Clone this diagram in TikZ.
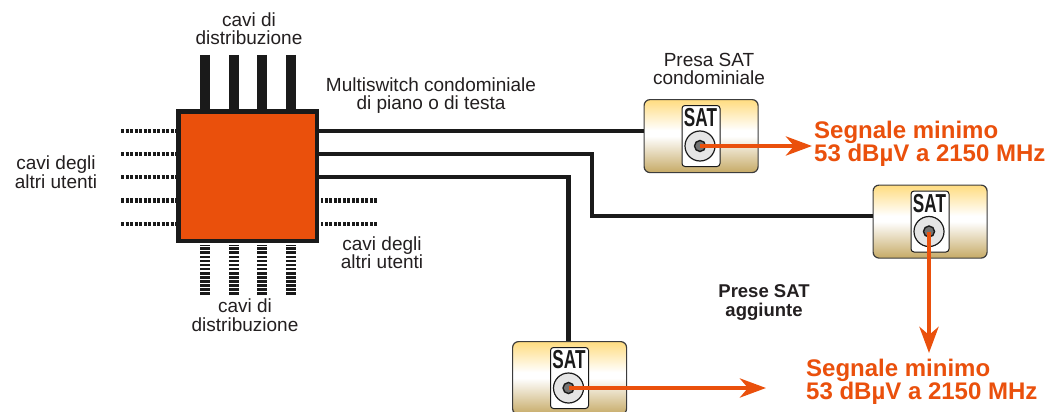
\documentclass[tikz,border=0pt]{standalone}
\usepackage{fontspec}
\setmainfont{Liberation Sans}
\usetikzlibrary{arrows.meta}
\definecolor{ink}{HTML}{1A1A1A}
\definecolor{orng}{HTML}{EA500C}
\definecolor{txtc}{HTML}{231F20}
\definecolor{sattop}{HTML}{FFDC80}
\definecolor{satbot}{HTML}{C6AA66}
\pgfdeclareverticalshading{satshade}{100bp}{
  color(0bp)=(satbot); color(25bp)=(satbot); color(50bp)=(white); color(54bp)=(white); color(75bp)=(sattop); color(100bp)=(sattop)}
\tikzset{
  lbl/.style={font=\fontsize{19}{18.5}\selectfont,text=txtc,align=center,inner sep=0pt},
  boldlbl/.style={font=\bfseries\fontsize{18.5}{19}\selectfont,text=txtc,align=center,inner sep=0pt},
  sig/.style={font=\bfseries\fontsize{24}{22}\selectfont,text=orng,align=left,inner sep=0pt},
  cable/.style={draw=ink,line width=4.5pt},
  dotcable/.style={draw=ink,line width=4.5pt,dash pattern=on 3pt off 1.5pt},
  fatcable/.style={draw=ink,line width=10pt},
  stripecable/.style={draw=ink,line width=10pt,dash pattern=on 2.6pt off 1.5pt},
  satbody/.style={draw=ink!85,line width=1.2pt,rounded corners=6pt,shading=satshade,minimum width=114pt,minimum height=73pt,inner sep=0pt},
  satplate/.style={draw=ink,fill=white,line width=1pt,rounded corners=3pt,minimum width=38pt,minimum height=61pt,inner sep=0pt},
  sattxt/.style={font=\bfseries\fontsize{26}{26}\selectfont,text=ink,inner sep=0pt,xscale=.66},
  ringo/.style={circle,draw=ink,fill=black!10,line width=1.2pt,minimum size=30pt,inner sep=0pt},
  ringi/.style={circle,draw=ink,fill=black!55,line width=1.4pt,minimum size=11pt,inner sep=0pt},
  sigarrow/.style={draw=orng,line width=4.5pt,-{Stealth[length=26pt,width=19pt,inset=8pt]}},
}
\newcommand{\satunit}[3]{%
  \node[satbody,anchor=north west] (#1) at (#2,#3) {};
  \node[satplate,anchor=north west] (#1p) at (#2+38,#3+6) {};
  \node[sattxt] (#1t) at (#2+57,#3+19) {SAT};
  \node[ringo] (#1r) at (#2+56.5,#3+47) {};
  \node[ringi] (#1c) at (#2+56.5,#3+47) {};
}
\begin{document}
\begin{tikzpicture}[x=1pt,y=-1pt]
\useasboundingbox (0,0) rectangle (1049,412);
\clip (0,0) rectangle (1049,412);
\fill[white] (0,0) rectangle (1049,412);
% anchors
\coordinate (t1a) at (205,55); \coordinate (t2a) at (233.5,55); \coordinate (t3a) at (262,55); \coordinate (t4a) at (291,55);
\coordinate (b1a) at (205,295); \coordinate (b2a) at (233.5,295); \coordinate (b3a) at (262,295); \coordinate (b4a) at (291,295);
\coordinate (l1a) at (121,131); \coordinate (l2a) at (121,154); \coordinate (l3a) at (121,177); \coordinate (l4a) at (121,200.5); \coordinate (l5a) at (121,224);
\coordinate (r4a) at (377,200.5); \coordinate (r5a) at (377,224);
\node[draw=ink,fill=orng,line width=4.5pt,minimum width=138.5pt,minimum height=129.5pt,inner sep=0pt] (sw) at (247.75,176.25) {};
\foreach \n in {1,2,3,4} {
  \draw[fatcable] (t\n a) -- (sw.north -| t\n a);
  \draw[stripecable] (b\n a) -- ([yshift=-1.5pt]sw.south -| b\n a);
}
\foreach \n in {1,...,5} \draw[dotcable] (l\n a) -- (sw.west |- l\n a);
\foreach \n in {4,5} \draw[dotcable] (r\n a) -- ([xshift=2pt]sw.east |- r\n a);
% units
\satunit{sa}{643.5}{99}
\satunit{sb}{872.5}{184.5}
\satunit{sc}{512}{341}
% feeds
\draw[cable] (sw.east |- l1a) -- (sa.west |- l1a);
\coordinate (feedb) at (592,216);
\draw[cable] (sw.east |- l2a) -- (feedb |- l2a) -- (feedb) -- (sb.west |- feedb);
\draw[cable] (sw.east |- l3a) -- (scc |- l3a) -- (scc |- sc.north);
% signal arrows
\coordinate (ea) at (812,146);
\coordinate (eb) at (928,353);
\coordinate (ec) at (766,388);
\draw[sigarrow] (sac.center) -- (sac -| ea);
\draw[sigarrow] (sbc.center) -- (sbc |- eb);
\draw[sigarrow] (scc.center) -- (scc -| ec);
% text
\node[lbl] (n1) at (249,28.5) {cavi di\\distribuzione};
\node[lbl] (n2) at (245,315) {cavi di\\distribuzione};
\node[lbl] (n3) at (56,172) {cavi degli\\altri utenti};
\node[lbl] (n4) at (382,252.5) {cavi degli\\altri utenti};
\node[lbl] (n5) at (431,95.5) {Multiswitch condominiale\\di piano o di testa};
\node[lbl] (n6) at (709,69) {Presa SAT\\condominiale};
\node[boldlbl] (n7) at (764,302) {Prese SAT\\aggiunte};
\node[sig,anchor=west] (n8) at (814,144) {Segnale minimo\\53 dBµV a 2150 MHz};
\node[sig,anchor=west] (n9) at (806,382) {Segnale minimo\\53 dBµV a 2150 MHz};
\end{tikzpicture}
\end{document}
